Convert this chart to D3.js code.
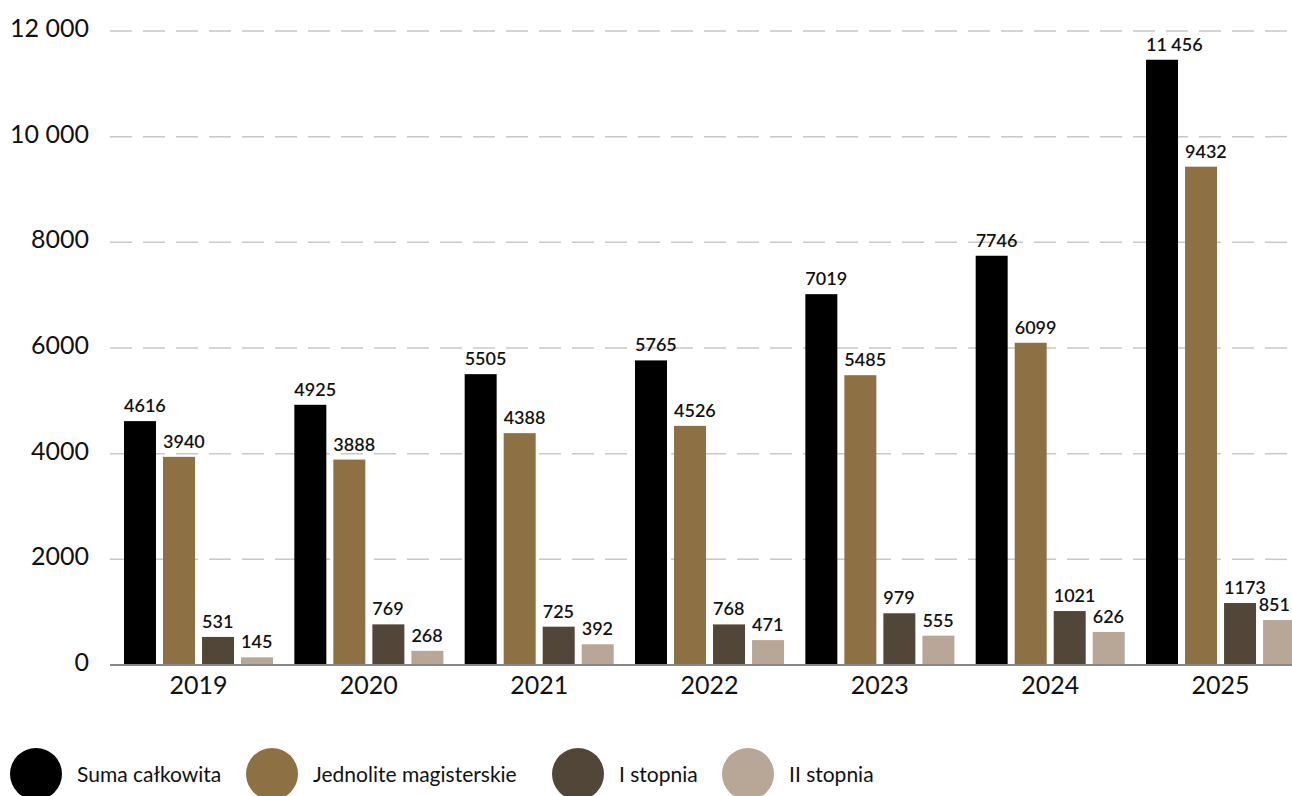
<!DOCTYPE html>
<html><head><meta charset="utf-8">
<script src="https://cdn.jsdelivr.net/npm/d3@7"></script>
<style>html,body{margin:0;padding:0;background:#fff;}svg{display:block;font-family:Lato,"Open Sans",sans-serif;}</style>
</head><body>
<svg id="c" width="1292" height="796"></svg>
<script>
const years = ["2019","2020","2021","2022","2023","2024","2025"];
const seriesNames = ["Suma całkowita","Jednolite magisterskie","I stopnia","II stopnia"];
const sumaValues = [4616, 4925, 5505, 5765, 7019, 7746, 11456];
const jednoliteValues = [3940, 3888, 4388, 4526, 5485, 6099, 9432];
const iStopniaValues = [531, 769, 725, 768, 979, 1021, 1173];
const iiStopniaValues = [145, 268, 392, 471, 555, 626, 851];
const yTicks = [0, 2000, 4000, 6000, 8000, 10000, 12000];
const colors = ["#000000", "#8e7045", "#524638", "#b8a797"];
const legendX = [10, 246, 552, 722];

const allSeries = [sumaValues, jednoliteValues, iStopniaValues, iiStopniaValues];
const fmt = v => v >= 10000 ? d3.format(",")(v).replace(/,/g, " ") : String(v);

const svg = d3.select("#c");
const y = d3.scaleLinear().domain([0, 12000]).range([665, 31]);
const x0 = d3.scaleBand().domain(years).range([113.35, 1305.7]).paddingInner(0.125).paddingOuter(0.0625);
const x1 = d3.scaleBand().domain(d3.range(4)).range([0, x0.bandwidth()]).paddingInner(0.18).paddingOuter(0);

// grid
svg.append("g").selectAll("line").data(yTicks.filter(t => t > 0)).join("line")
  .attr("x1", 110).attr("x2", 1292)
  .attr("y1", d => y(d)).attr("y2", d => y(d))
  .attr("stroke", "#c8c8c8").attr("stroke-width", 1.5)
  .attr("stroke-dasharray", "22,11");

// y labels
svg.append("g").selectAll("text").data(yTicks).join("text")
  .attr("x", 89).attr("y", d => y(d) + 6)
  .attr("text-anchor", "end")
  .attr("font-size", 25).attr("fill", "#111")
  .text(fmt);

// bars
const groups = svg.append("g").selectAll("g").data(years).join("g")
  .attr("transform", d => `translate(${x0(d)},0)`);
groups.each(function(yr, i) {
  const g = d3.select(this);
  allSeries.forEach((s, k) => {
    g.append("rect")
      .attr("x", x1(k)).attr("y", y(s[i]))
      .attr("width", x1.bandwidth()).attr("height", y(0) - y(s[i]))
      .attr("fill", colors[k]);
    const t = g.append("text")
      .attr("x", x1(k)).attr("y", y(s[i]) - 9)
      .attr("font-size", 18).attr("font-weight", 600).attr("fill", "#111")
      .text(fmt(s[i]));
    const w = t.node().getComputedTextLength();
    const maxX = 1290 - x0(yr) - w;
    if (x1(k) > maxX) t.attr("x", maxX);
  });
});

// baseline
svg.append("line").attr("x1", 110).attr("x2", 1292)
  .attr("y1", y(0)).attr("y2", y(0))
  .attr("stroke", "#888").attr("stroke-width", 2);

// year labels
svg.append("g").selectAll("text").data(years).join("text")
  .attr("x", d => x0(d) + x0.bandwidth() / 2).attr("y", 694)
  .attr("text-anchor", "middle").attr("font-size", 25).attr("fill", "#111")
  .text(d => d);

// legend
const leg = svg.append("g");
seriesNames.forEach((n, k) => {
  leg.append("circle").attr("cx", legendX[k] + 26).attr("cy", 774).attr("r", 26).attr("fill", colors[k]);
  leg.append("text").attr("x", legendX[k] + 67).attr("y", 782)
    .attr("font-size", 21).attr("fill", "#111").text(n);
});
</script>
</body></html>
